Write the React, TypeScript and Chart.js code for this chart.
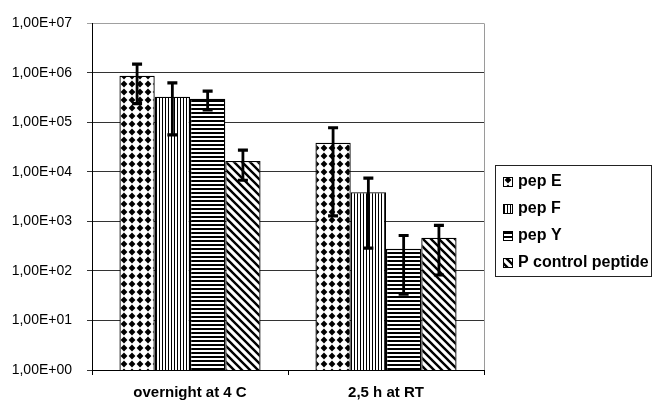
import React, { useEffect, useRef } from "react";
import { Chart, registerables } from "chart.js";

Chart.register(...registerables);

const categories = ["overnight at 4 C", "2,5 h at RT"];
const seriesNames = ["pep E", "pep F", "pep Y", "P control peptide"];

const pepE = [8.8e5, 3.9e4];
const pepF = [3.3e5, 3.9e3];
const pepY = [3.0e5, 280];
const pControl = [1.66e4, 470];

const pepEHi = [1.5e6, 7.8e4];
const pepELo = [2.4e5, 1.3e3];
const pepFHi = [6.3e5, 7.5e3];
const pepFLo = [5.6e4, 290];
const pepYHi = [4.3e5, 520];
const pepYLo = [1.8e5, 34];
const pControlHi = [2.75e4, 830];
const pControlLo = [6.8e3, 83];

const yTickValues = [1, 10, 100, 1e3, 1e4, 1e5, 1e6, 1e7];
const yTickLabels = [
  "1,00E+00",
  "1,00E+01",
  "1,00E+02",
  "1,00E+03",
  "1,00E+04",
  "1,00E+05",
  "1,00E+06",
  "1,00E+07",
];

const FONT = "'Liberation Sans', Arial, sans-serif";

function makeTile(w: number, h: number, draw: (c: CanvasRenderingContext2D) => void) {
  const cv = document.createElement("canvas");
  cv.width = w;
  cv.height = h;
  const c = cv.getContext("2d")!;
  c.fillStyle = "#fff";
  c.fillRect(0, 0, w, h);
  c.fillStyle = "#000";
  c.strokeStyle = "#000";
  draw(c);
  return cv;
}

function makePatterns(ctx: CanvasRenderingContext2D) {
  const diamond = makeTile(8, 8, (c) => {
    c.beginPath();
    c.moveTo(4, 0.6);
    c.lineTo(7.4, 4);
    c.lineTo(4, 7.4);
    c.lineTo(0.6, 4);
    c.closePath();
    c.fill();
  });
  const vert = makeTile(3, 3, (c) => {
    c.fillRect(0, 0, 1, 3);
  });
  const horiz = makeTile(4, 4, (c) => {
    c.fillRect(0, 0, 4, 2);
  });
  const diag = makeTile(8, 8, (c) => {
    c.lineWidth = 2.4;
    c.beginPath();
    c.moveTo(-2, -2);
    c.lineTo(10, 10);
    c.moveTo(-10, -2);
    c.lineTo(2, 10);
    c.moveTo(6, -2);
    c.lineTo(18, 10);
    c.stroke();
  });
  return [
    ctx.createPattern(diamond, "repeat")!,
    ctx.createPattern(vert, "repeat")!,
    ctx.createPattern(horiz, "repeat")!,
    ctx.createPattern(diag, "repeat")!,
  ];
}

const errorBarPlugin = {
  id: "errorBars",
  afterDatasetsDraw(chart: any) {
    const ctx = chart.ctx;
    const y = chart.scales.y;
    ctx.save();
    ctx.strokeStyle = "#000";
    chart.data.datasets.forEach((ds: any, i: number) => {
      const meta = chart.getDatasetMeta(i);
      meta.data.forEach((bar: any, j: number) => {
        const x = bar.x;
        const yh = y.getPixelForValue(ds.errHi[j]);
        const yl = y.getPixelForValue(ds.errLo[j]);
        ctx.lineWidth = 2.8;
        ctx.beginPath();
        ctx.moveTo(x, yh);
        ctx.lineTo(x, yl);
        ctx.stroke();
        ctx.lineWidth = 3.2;
        ctx.beginPath();
        ctx.moveTo(x - 5, yh);
        ctx.lineTo(x + 5, yh);
        ctx.moveTo(x - 5, yl);
        ctx.lineTo(x + 5, yl);
        ctx.stroke();
      });
    });
    ctx.restore();
  },
};

const frameLegendPlugin = {
  id: "frameLegend",
  afterDraw(chart: any) {
    const ctx = chart.ctx;
    const a = chart.chartArea;
    ctx.save();
    ctx.strokeStyle = "#9a9a9a";
    ctx.lineWidth = 1;
    ctx.beginPath();
    ctx.moveTo(a.right + 0.5, a.top);
    ctx.lineTo(a.right + 0.5, a.bottom);
    ctx.stroke();
    ctx.strokeStyle = "#222";
    ctx.strokeRect(495.5, 165.5, 156, 111);
    const rows = [181, 208, 235, 262];
    ctx.font = `bold 16px ${FONT}`;
    ctx.textBaseline = "middle";
    ctx.textAlign = "left";
    chart.data.datasets.forEach((ds: any, i: number) => {
      const yc = rows[i];
      ctx.fillStyle = ds.backgroundColor;
      ctx.fillRect(503, yc - 4, 9, 9);
      ctx.strokeStyle = "#000";
      ctx.lineWidth = 1;
      ctx.strokeRect(503.5, yc - 3.5, 9, 9);
      ctx.fillStyle = "#000";
      ctx.fillText(ds.label, 518, yc + 1);
    });
    ctx.restore();
  },
};

export default function App() {
  const ref = useRef<HTMLCanvasElement | null>(null);

  useEffect(() => {
    const canvas = ref.current!;
    const ctx = canvas.getContext("2d")!;
    const pats = makePatterns(ctx);
    const values = [pepE, pepF, pepY, pControl];
    const his = [pepEHi, pepFHi, pepYHi, pControlHi];
    const los = [pepELo, pepFLo, pepYLo, pControlLo];

    const chart = new Chart(canvas, {
      type: "bar",
      data: {
        labels: categories,
        datasets: seriesNames.map((name, i) => ({
          label: name,
          data: values[i],
          errHi: his[i],
          errLo: los[i],
          backgroundColor: pats[i] as any,
          borderColor: "#000",
          borderWidth: 1.3,
          categoryPercentage: 0.72,
          barPercentage: 1.0,
        })) as any,
      },
      options: {
        responsive: false,
        animation: false,
        devicePixelRatio: 1,
        layout: { padding: { left: 0, right: 169, top: 18, bottom: 0 } },
        plugins: {
          legend: { display: false },
          tooltip: { enabled: false },
        },
        scales: {
          x: {
            type: "category",
            afterFit: (s: any) => {
              s.height = 37;
            },
            grid: {
              offset: true,
              drawOnChartArea: false,
              tickLength: 5,
              color: "#000",
            },
            border: { color: "#000", width: 1 },
            ticks: {
              color: "#000",
              padding: 9,
              font: { family: FONT, size: 15, weight: "bold" },
            },
          },
          y: {
            type: "logarithmic",
            min: 1,
            max: 1e7,
            afterFit: (s: any) => {
              s.width = 92;
            },
            afterBuildTicks: (s: any) => {
              s.ticks = yTickValues.map((v) => ({ value: v, major: true }));
            },
            grid: {
              tickLength: 5,
              color: (c: any) =>
                c.tick && c.tick.value === 1e7 ? "#a0a0a0" : "#333",
            },
            border: { color: "#000", width: 1 },
            ticks: {
              color: "#000",
              padding: 15,
              font: { family: FONT, size: 14 },
              callback: (v: any) => yTickLabels[yTickValues.indexOf(Number(v))],
            },
          },
        },
      },
      plugins: [errorBarPlugin, frameLegendPlugin],
    });
    return () => chart.destroy();
  }, []);

  return (
    <div
      style={{
        position: "absolute",
        left: 0,
        top: 0,
        width: 653,
        height: 407,
        background: "#fff",
      }}
    >
      <canvas ref={ref} width={653} height={407} />
    </div>
  );
}
